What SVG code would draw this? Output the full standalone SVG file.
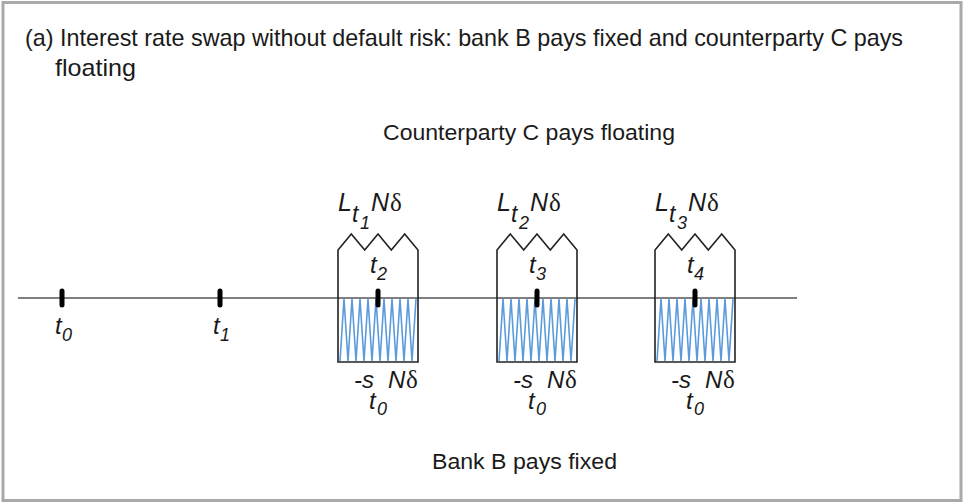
<svg xmlns="http://www.w3.org/2000/svg" width="966" height="504" viewBox="0 0 966 504">
<style>
.t{font-family:"Liberation Sans",Arial,sans-serif;fill:#1a1a1a}
.m{font-family:"Liberation Sans",Arial,sans-serif;font-style:italic;fill:#1a1a1a}
.d{font-family:"Liberation Serif","DejaVu Serif",serif;fill:#1a1a1a}
.box{fill:none;stroke:#222;stroke-width:1.6}
.hatch{fill:none;stroke:#5b9bdc;stroke-width:1.6}
.axis{stroke:#555;stroke-width:1.6}
.tick{stroke:#000;stroke-width:5;stroke-linecap:round}
</style>
<rect x="0" y="0" width="966" height="504" fill="#fff"/>
<rect x="3" y="2.5" width="958" height="498" fill="none" stroke="#a9a9a9" stroke-width="3"/>
<text class="t" x="25" y="46" font-size="24" textLength="878" lengthAdjust="spacingAndGlyphs">(a) Interest rate swap without default risk: bank B pays fixed and counterparty C pays</text>
<text class="t" x="55" y="76" font-size="24" textLength="81" lengthAdjust="spacingAndGlyphs">floating</text>
<text class="t" x="383" y="140" font-size="22" textLength="292" lengthAdjust="spacingAndGlyphs">Counterparty C pays floating</text>
<text class="t" x="432" y="469" font-size="22" textLength="185" lengthAdjust="spacingAndGlyphs">Bank B pays fixed</text>
<g id="connectors">
<line class="axis" x1="18" y1="298" x2="797" y2="298"/>
</g>
<g id="tick-t0">
<line class="tick" x1="62" y1="291" x2="62" y2="305"/>
<text class="m" x="55" y="334" font-size="24">t</text><text class="m" x="62" y="341" font-size="18">0</text>
</g>
<g id="tick-t1">
<line class="tick" x1="220" y1="291" x2="220" y2="305"/>
<text class="m" x="213" y="334" font-size="24">t</text><text class="m" x="220" y="341" font-size="18">1</text>
</g>
<defs>
<g id="pay">
<path class="box" d="M0,298 V250 L13.3,234 L26.7,250 L40,234 L53.3,250 L66.7,234 L80,250 V298"/>
<polyline class="hatch" points="2,361 6,299 10,361 14,299 18,361 22,299 26,361 30,299 34,361 38,299 42,361 46,299 50,361 54,299 58,361 62,299 66,361 70,299 74,361 78,299"/>
<path class="box" d="M0,298 V362 H80 V298"/>
<line class="tick" x1="40" y1="291" x2="40" y2="305"/>
<text class="m" x="16" y="388" font-size="24">-s</text>
<text class="m" x="31" y="409" font-size="24">t</text><text class="m" x="39" y="415" font-size="18">0</text>
<text class="m" x="50" y="388" font-size="24">N</text><text class="d" x="68" y="388" font-size="25">δ</text>
<text class="m" x="0" y="211" font-size="25">L</text><text class="m" x="14" y="222" font-size="23">t</text>
<text class="m" x="33" y="211" font-size="25">N</text><text class="d" x="52" y="211" font-size="25">δ</text>
<text class="m" x="32" y="273" font-size="24">t</text>
</g>
</defs>
<g id="period-1">
<use href="#pay" x="338"/>
<text class="m" x="360" y="229" font-size="18">1</text>
<text class="m" x="377" y="280" font-size="18">2</text>
</g>
<g id="period-2">
<use href="#pay" x="497"/>
<text class="m" x="519" y="229" font-size="18">2</text>
<text class="m" x="536" y="280" font-size="18">3</text>
</g>
<g id="period-3">
<use href="#pay" x="655"/>
<text class="m" x="677" y="229" font-size="18">3</text>
<text class="m" x="694" y="280" font-size="18">4</text>
</g>
</svg>
